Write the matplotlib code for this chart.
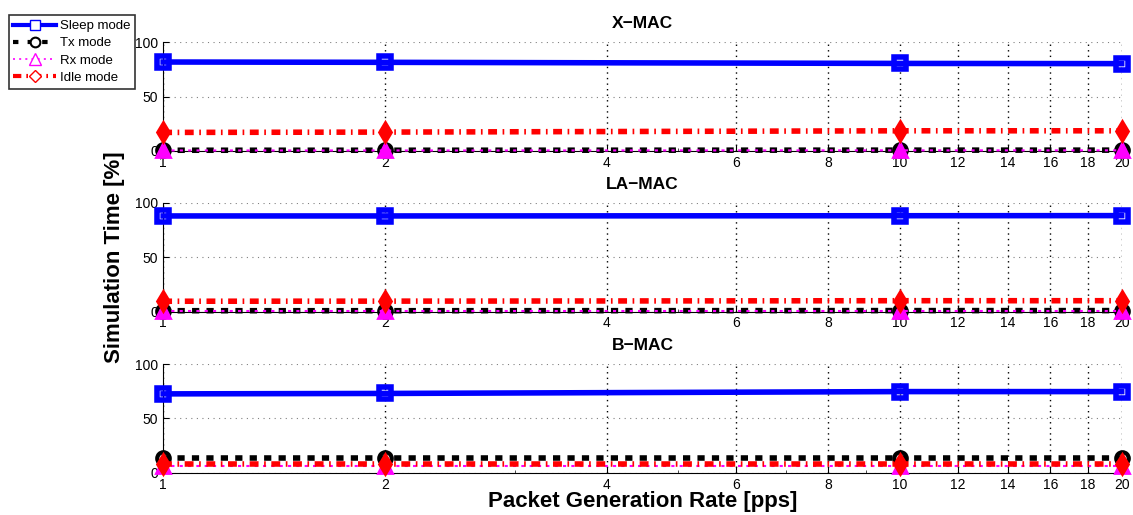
import numpy as np
import matplotlib.pyplot as plt
from matplotlib.lines import Line2D
from matplotlib.ticker import FixedLocator, NullFormatter

plt.rcParams['font.family'] = ['Liberation Sans', 'DejaVu Sans']

# packet generation rate [pps]
rate = [1, 2, 10, 20]

# simulation time share [%] per MAC protocol
xmac_sleep = [81.8, 81.5, 80.5, 80.3]
xmac_tx = [0.6, 0.6, 0.7, 0.7]
xmac_rx = [0.4, 0.4, 0.5, 0.5]
xmac_idle = [17.0, 17.3, 18.5, 18.5]

lamac_sleep = [88.0, 88.0, 88.2, 88.3]
lamac_tx = [0.8, 0.8, 0.9, 0.9]
lamac_rx = [0.5, 0.5, 0.5, 0.5]
lamac_idle = [9.5, 9.6, 10.0, 10.0]

bmac_sleep = [72.6, 73.0, 74.7, 74.7]
bmac_tx = [13.9, 13.9, 13.9, 13.9]
bmac_rx = [5.8, 5.8, 5.8, 5.8]
bmac_idle = [7.7, 7.7, 7.7, 7.7]

titles = ['X\u2212MAC', 'LA\u2212MAC', 'B\u2212MAC']
panels = [(xmac_sleep, xmac_tx, xmac_rx, xmac_idle),
          (lamac_sleep, lamac_tx, lamac_rx, lamac_idle),
          (bmac_sleep, bmac_tx, bmac_rx, bmac_idle)]
labels = ['Sleep mode', 'Tx mode', 'Rx mode', 'Idle mode']
xticks = [1, 2, 4, 6, 8, 10, 12, 14, 16, 18, 20]

fig = plt.figure(figsize=(11.33, 5.15), dpi=100)
tops = [0.918, 0.606, 0.293]
h = 0.211
left, width = 0.144, 0.846

for i, (title, (sl, tx, rx, idle)) in enumerate(zip(titles, panels)):
    ax = fig.add_axes([left, tops[i] - h, width, h])
    ax.set_xscale('log')
    ax.plot(rate, sl, '-', color='blue', lw=4, marker='s', ms=8,
            mfc='none', mec='blue', mew=4, zorder=3, clip_on=False)
    ax.plot(rate, tx, color='black', lw=4, dashes=(1.3, 1.3), marker='o',
            ms=9, mfc='none', mec='black', mew=3, zorder=3, clip_on=False)
    ax.plot(rate, rx, color='magenta', lw=1.5, dashes=(1.5, 2.5), marker='^',
            ms=10, mfc='magenta', mec='magenta', mew=2, zorder=4,
            clip_on=False)
    ax.plot(rate, idle, color='red', lw=4, dashes=(1.6, 1.0, 0.3, 1.0),
            marker='d', ms=10, mfc='red', mec='red', mew=2, zorder=5,
            clip_on=False)
    ax.set_xlim(1, 20)
    ax.set_ylim(0, 100)
    ax.set_yticks([0, 50, 100])
    ax.xaxis.set_major_locator(FixedLocator(xticks))
    ax.set_xticklabels([str(t) for t in xticks])
    ax.xaxis.set_minor_formatter(NullFormatter())
    ax.tick_params(direction='in', labelsize=10, length=4, width=0.8)
    ax.tick_params(which='minor', direction='in', length=2, width=0.5)
    ax.spines['top'].set_visible(False)
    ax.spines['right'].set_visible(False)
    ax.grid(axis='x', which='major', color='black', linestyle=(0, (1, 3)),
            lw=1.0)
    ax.grid(axis='y', color='gray', linestyle=(0, (1, 4)), lw=0.8)
    ax.set_title(title, fontsize=12.5, fontweight='bold', pad=10)

# legend entries: thinner lines with hollow markers
handles = [
    Line2D([], [], color='blue', lw=3, marker='s', ms=7, mfc='white',
           mec='blue', mew=1),
    Line2D([], [], color='black', lw=3, dashes=(1.3, 2.2), marker='o',
           ms=7, mfc='white', mec='black', mew=1.5),
    Line2D([], [], color='magenta', lw=1.2, dashes=(1.2, 2.5), marker='^',
           ms=8, mfc='white', mec='magenta', mew=1),
    Line2D([], [], color='red', lw=3, dashes=(2, 1.2, 0.4, 1.2), marker='D',
           ms=6, mfc='white', mec='red', mew=1),
]
leg = fig.legend(handles, labels, loc='upper left',
                 bbox_to_anchor=(0.002, 0.983), fontsize=9.5, frameon=True,
                 fancybox=False, edgecolor='black', handlelength=3.2,
                 borderpad=0.35, labelspacing=0.38, handletextpad=0.3)
leg.get_frame().set_linewidth(1.2)

fig.text(0.101, 0.5, 'Simulation Time [%]', rotation=90, fontsize=16,
         fontweight='heavy', ha='center', va='center')
fig.text(0.567, 0.027, 'Packet Generation Rate [pps]', fontsize=16,
         fontweight='heavy', ha='center', va='center')

fig.savefig('out.png', dpi=100)
